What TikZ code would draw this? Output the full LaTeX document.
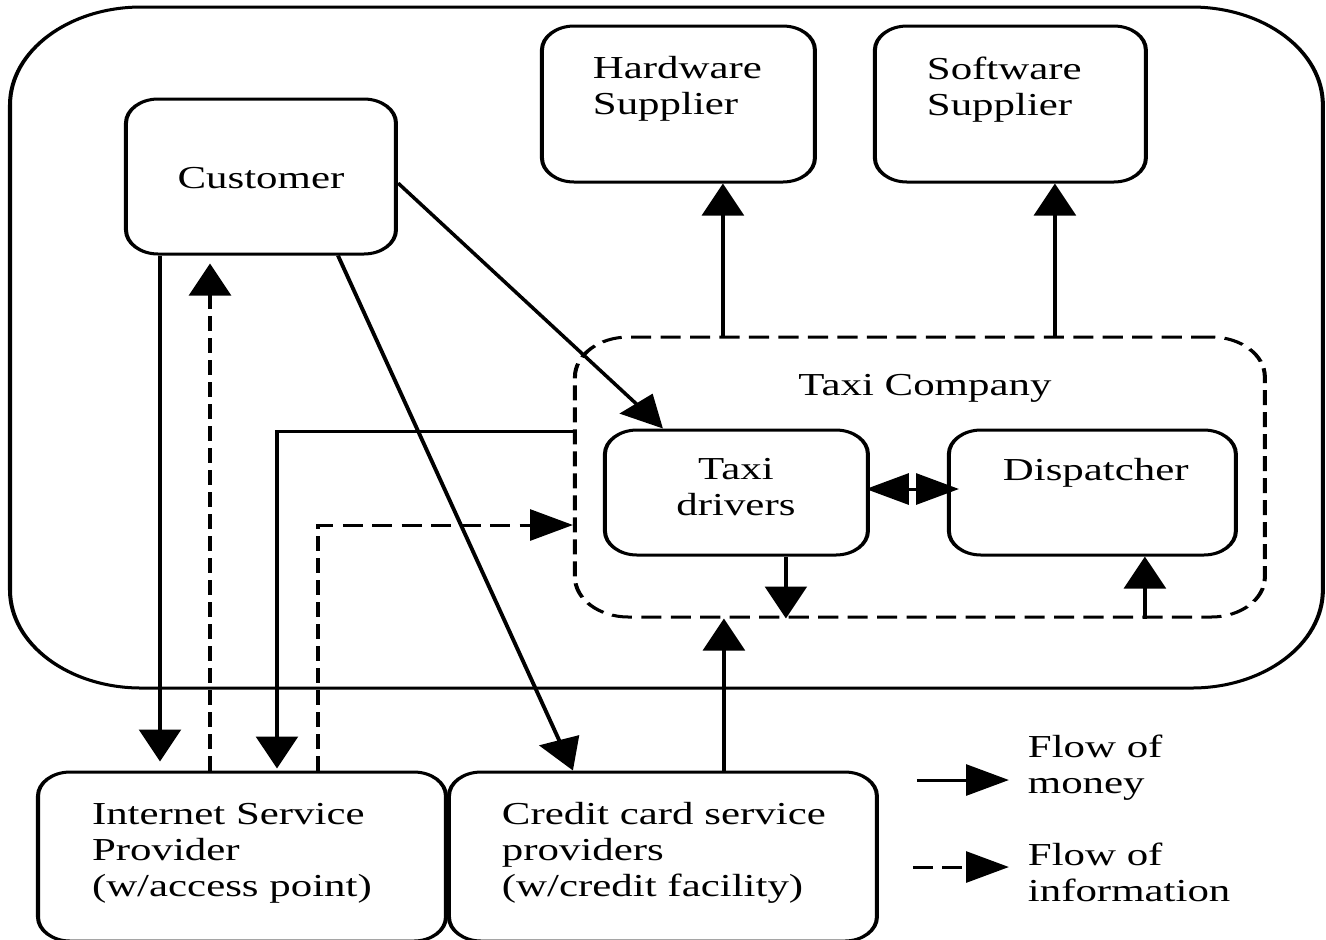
\documentclass[tikz,border=0pt]{standalone}
\usepackage{fontspec}
\setmainfont{Liberation Serif}
\usetikzlibrary{arrows.meta,fit}

\tikzset{
	box/.style={draw, rounded corners=12pt, inner sep=0pt},
	dbox/.style={box, dash pattern=on 7.5pt off 3.5pt, rounded corners=20pt},
	txt/.style={inner sep=0pt, align=left, font=\fontsize{16pt}{18pt}\selectfont},
	money/.style={-{Triangle[length=16pt,width=15.5pt]}},
	info/.style={money, dash pattern=on 7.5pt off 3.5pt},
	both/.style={{Triangle[length=16pt,width=15.5pt]}-{Triangle[length=16pt,width=15.5pt]}},
}

\begin{document}
\begin{tikzpicture}[x=0.5pt,y=-0.5pt,line width=1.5pt]
\useasboundingbox (0,0) rectangle (1326,939);
\begin{scope}[x=0.3731pt, transform canvas={xscale=1.34}]
	% boxes
	\node (world) [box, rounded corners=49pt, fit={(10,7) (1323,688)}] {};
	\node (cust) [box, fit={(126,99) (396,254)}] {};
	\node (hw)   [box, fit={(542,26) (815,182)}] {};
	\node (sw)   [box, fit={(875,26) (1146,182)}] {};
	\node (tco)  [dbox, fit={(575,337) (1265,617)}] {};
	\node (tdrv) [box, fit={(605,430) (868,555)}] {};
	\node (disp) [box, fit={(949,430) (1236,555)}] {};
	\node (isp)  [box, fit={(38,772) (446,941)}] {};
	\node (cc)   [box, fit={(449,772) (877,941)}] {};

	% texts
	\node (custtxt) [txt, anchor=base]       at (261,188)  {Customer};
	\node (hwtxt)   [txt, anchor=north west] at (591,55)   {Hardware\\Supplier};
	\node (swtxt)   [txt, anchor=north west] at (925,55)   {Software\\Supplier};
	\node (tcotxt)  [txt, anchor=base]       at (925,395)  {Taxi Company};
	\node (tdrvtxt) [txt, align=center, anchor=north] at (736,457) {Taxi\\drivers};
	\node (disptxt) [txt, anchor=base west]  at (1001,480) {Dispatcher};
	\node (isptxt)  [txt, anchor=north west] at (90,802)   {Internet Service\\Provider\\(w/access point)};
	\node (cctxt)   [txt, anchor=north west] at (500,801)  {Credit card service\\providers\\(w/credit facility)};
	\node (montxt)  [txt, anchor=north west] at (1026,733) {Flow of\\money};
	\node (inftxt)  [txt, anchor=north west] at (1026,841) {Flow of\\information};

	% flows
	\draw[money] (cust.east |- 0,183) -- (tdrv.north -| 663,0);
	\draw[money, shorten >=4.5pt] (cust.south -| 160,0) -- (isp.north -| 160,0);
	\draw[info, shorten >=4pt] (isp.north -| 210,0) -- (cust.south -| 210,0);
	\draw[money] (cust.south -| 338,0) -- (cc.north -| 573,0);
	\draw[money, shorten >=1pt] (tco.west |- 0,431) -| (isp.north -| 277,0);
	\draw[info] (isp.north -| 318,0) |- (tco.west |- 0,525);
	\draw[money] (cc.north -| 724,0) -- (tco.south -| 724,0);
	\draw[money] (tco.north -| 723,0) -- (hw.south -| 723,0);
	\draw[money] (tco.north -| 1055,0) -- (sw.south -| 1055,0);
	\draw[money] (tdrv.south -| 786,0) -- (tco.south -| 786,0);
	\draw[money] (tco.south -| 1145,0) -- (disp.south -| 1145,0);
	\draw[both, shorten <=-1.5pt, shorten >=-4.5pt] (tdrv.east |- 0,489) -- (disp.west |- 0,489);

	% legend
	\coordinate (m1) at (917,780);
	\coordinate (m2) at (1009,780);
	\coordinate (i1) at (913,867);
	\coordinate (i2) at (1009,867);
	\draw[money] (m1) -- (m2);
	\draw[info] (i1) -- (i2);
\end{scope}
\end{tikzpicture}
\end{document}
